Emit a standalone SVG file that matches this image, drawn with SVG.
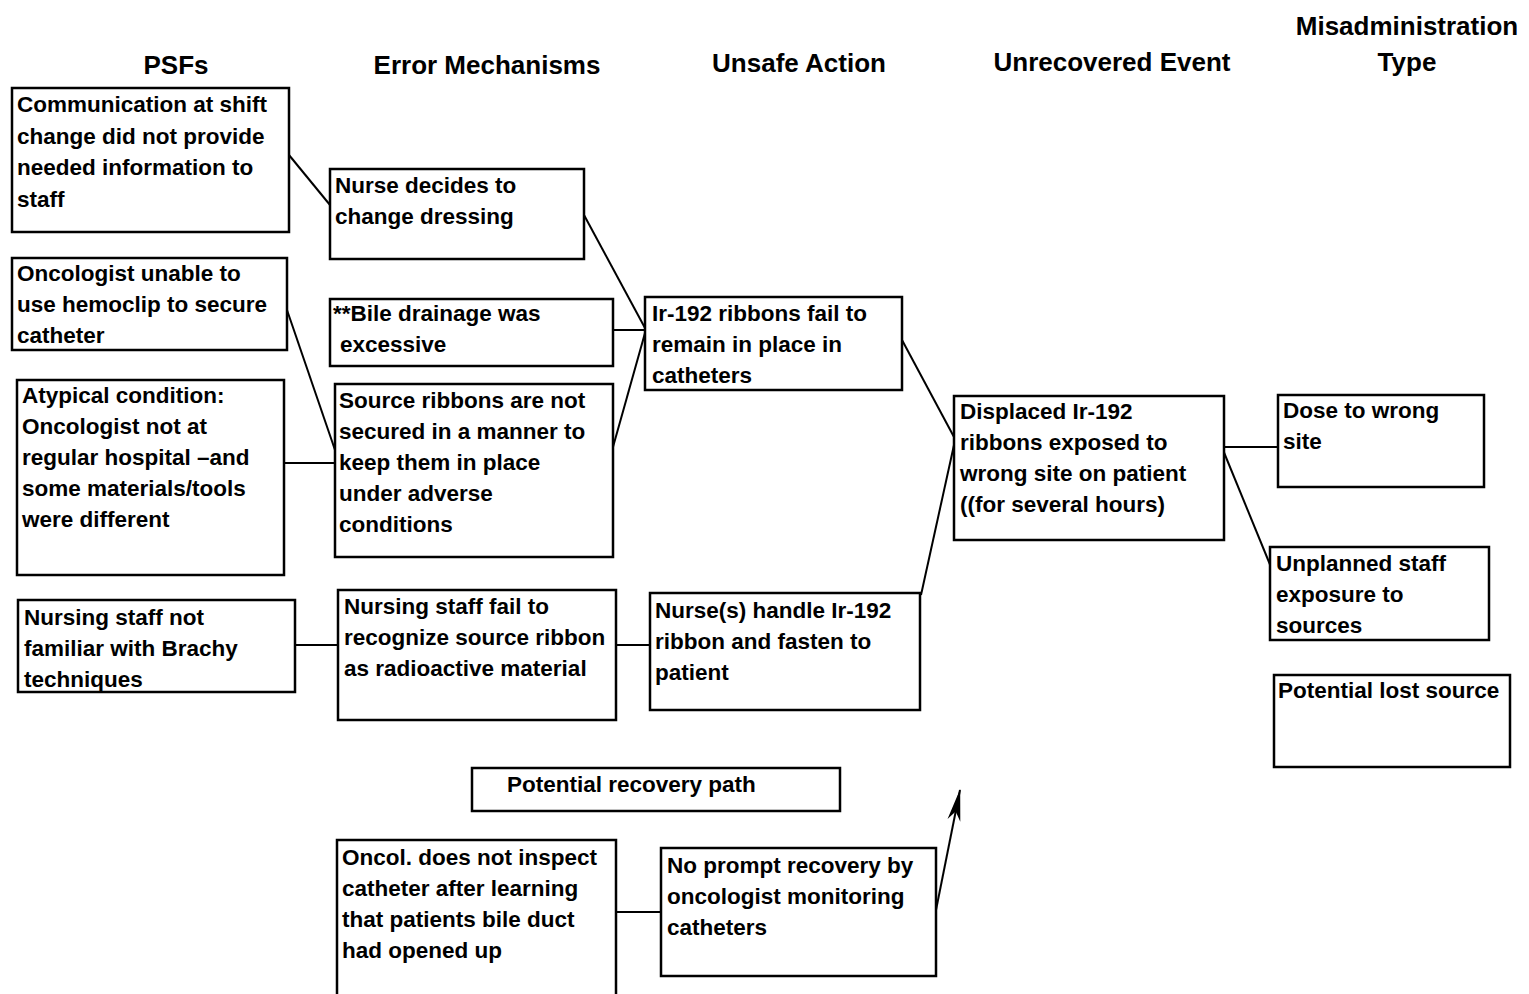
<svg xmlns="http://www.w3.org/2000/svg" width="1529" height="994" viewBox="0 0 1529 994">
  <style>
    .bg { fill: #ffffff; }
    .box { fill: #ffffff; stroke: #000000; stroke-width: 2.5; }
    .link { fill: none; stroke: #000000; stroke-width: 2; }
    .hdr { font-family: "Liberation Sans", Arial, sans-serif; font-weight: 700; font-size: 26px; fill: #000000; text-anchor: middle; }
    .lbl { font-family: "Liberation Sans", Arial, sans-serif; font-weight: 700; font-size: 22.5px; fill: #000000; }
  </style>
  <defs>
    <marker id="arrowhead" viewBox="0 0 32 14" refX="31" refY="7" markerWidth="32" markerHeight="14" markerUnits="userSpaceOnUse" orient="auto">
      <path d="M0,0.5 L32,7 L0,13.5 L9,7 Z" fill="#000000"/>
    </marker>
  </defs>

  <rect class="bg" x="0" y="0" width="1529" height="994"/>

  <!-- column headings -->
  <g id="headers">
    <text class="hdr" x="176" y="74">PSFs</text>
    <text class="hdr" x="487" y="74">Error Mechanisms</text>
    <text class="hdr" x="799" y="72">Unsafe Action</text>
    <text class="hdr" x="1112" y="71">Unrecovered Event</text>
    <text class="hdr" x="1407" y="35">Misadministration</text>
    <text class="hdr" x="1407" y="71">Type</text>
  </g>

  <!-- connectors -->
  <g id="connectors">
    <line class="link" x1="289" y1="155" x2="330" y2="205"/>
    <line class="link" x1="287" y1="310" x2="335" y2="450"/>
    <line class="link" x1="284" y1="463" x2="335" y2="463"/>
    <line class="link" x1="295" y1="645" x2="338" y2="645"/>
    <line class="link" x1="584" y1="215" x2="645" y2="328"/>
    <line class="link" x1="613" y1="330" x2="645" y2="330"/>
    <line class="link" x1="613" y1="447" x2="645" y2="333"/>
    <line class="link" x1="616" y1="645" x2="650" y2="645"/>
    <line class="link" x1="902" y1="340" x2="954" y2="437"/>
    <line class="link" x1="921" y1="595" x2="954" y2="445"/>
    <line class="link" x1="1224" y1="447" x2="1278" y2="447"/>
    <line class="link" x1="1223" y1="450" x2="1271" y2="567"/>
    <line class="link" x1="616" y1="912" x2="661" y2="912"/>
    <line class="link" x1="935" y1="915" x2="960" y2="790" stroke-width="2.5" marker-end="url(#arrowhead)"/>
  </g>

  <!-- PSFs -->
  <g id="psf-shift-change">
    <rect class="box" x="12" y="88" width="277" height="144"/>
    <text class="lbl" x="17" y="112">Communication at shift<tspan x="17" dy="31.5">change did not provide</tspan><tspan x="17" dy="31.5">needed information to</tspan><tspan x="17" dy="31.5">staff</tspan></text>
  </g>
  <g id="psf-hemoclip">
    <rect class="box" x="12" y="258" width="275" height="92"/>
    <text class="lbl" x="17" y="281">Oncologist unable to<tspan x="17" dy="31">use hemoclip to secure</tspan><tspan x="17" dy="31">catheter</tspan></text>
  </g>
  <g id="psf-atypical">
    <rect class="box" x="17" y="380" width="267" height="195"/>
    <text class="lbl" x="22" y="403">Atypical condition:<tspan x="22" dy="31">Oncologist not at</tspan><tspan x="22" dy="31">regular hospital –and</tspan><tspan x="22" dy="31">some materials/tools</tspan><tspan x="22" dy="31">were different</tspan></text>
  </g>
  <g id="psf-brachy">
    <rect class="box" x="18" y="600" width="277" height="92"/>
    <text class="lbl" x="24" y="625">Nursing staff not<tspan x="24" dy="31">familiar with Brachy</tspan><tspan x="24" dy="31">techniques</tspan></text>
  </g>

  <!-- Error mechanisms -->
  <g id="em-dressing">
    <rect class="box" x="330" y="169" width="254" height="90"/>
    <text class="lbl" x="335" y="193">Nurse decides to<tspan x="335" dy="31">change dressing</tspan></text>
  </g>
  <g id="em-bile">
    <rect class="box" x="330" y="299" width="283" height="67"/>
    <text class="lbl" x="333" y="321">**Bile drainage was<tspan x="340" dy="31">excessive</tspan></text>
  </g>
  <g id="em-not-secured">
    <rect class="box" x="335" y="384" width="278" height="173"/>
    <text class="lbl" x="339" y="408">Source ribbons are not<tspan x="339" dy="31">secured in a manner to</tspan><tspan x="339" dy="31">keep them in place</tspan><tspan x="339" dy="31">under adverse</tspan><tspan x="339" dy="31">conditions</tspan></text>
  </g>
  <g id="em-recognize">
    <rect class="box" x="338" y="590" width="278" height="130"/>
    <text class="lbl" x="344" y="614">Nursing staff fail to<tspan x="344" dy="31">recognize source ribbon</tspan><tspan x="344" dy="31">as radioactive material</tspan></text>
  </g>

  <!-- Unsafe actions -->
  <g id="ua-ribbons-fail">
    <rect class="box" x="645" y="297" width="257" height="93"/>
    <text class="lbl" x="652" y="321">Ir-192 ribbons fail to<tspan x="652" dy="31">remain in place in</tspan><tspan x="652" dy="31">catheters</tspan></text>
  </g>
  <g id="ua-handle">
    <rect class="box" x="650" y="593" width="270" height="117"/>
    <text class="lbl" x="655" y="618">Nurse(s) handle Ir-192<tspan x="655" dy="31">ribbon and fasten to</tspan><tspan x="655" dy="31">patient</tspan></text>
  </g>

  <!-- Unrecovered event -->
  <g id="ue-displaced">
    <rect class="box" x="954" y="396" width="270" height="144"/>
    <text class="lbl" x="960" y="419">Displaced Ir-192<tspan x="960" dy="31">ribbons exposed to</tspan><tspan x="960" dy="31">wrong site on patient</tspan><tspan x="960" dy="31">((for several hours)</tspan></text>
  </g>

  <!-- Misadministration types -->
  <g id="mt-wrong-site">
    <rect class="box" x="1278" y="395" width="206" height="92"/>
    <text class="lbl" x="1283" y="418">Dose to wrong<tspan x="1283" dy="31">site</tspan></text>
  </g>
  <g id="mt-staff-exposure">
    <rect class="box" x="1270" y="547" width="219" height="93"/>
    <text class="lbl" x="1276" y="571">Unplanned staff<tspan x="1276" dy="31">exposure to</tspan><tspan x="1276" dy="31">sources</tspan></text>
  </g>
  <g id="mt-lost-source">
    <rect class="box" x="1274" y="675" width="236" height="92"/>
    <text class="lbl" x="1278" y="698">Potential lost source</text>
  </g>

  <!-- Recovery path -->
  <g id="recovery-label">
    <rect class="box" x="472" y="768" width="368" height="43"/>
    <text class="lbl" x="507" y="792">Potential recovery path</text>
  </g>
  <g id="rec-no-inspect">
    <rect class="box" x="337" y="840" width="279" height="160"/>
    <text class="lbl" x="342" y="865">Oncol. does not inspect<tspan x="342" dy="31">catheter after learning</tspan><tspan x="342" dy="31">that patients bile duct</tspan><tspan x="342" dy="31">had opened up</tspan></text>
  </g>
  <g id="rec-no-prompt">
    <rect class="box" x="661" y="848" width="275" height="128"/>
    <text class="lbl" x="667" y="873">No prompt recovery by<tspan x="667" dy="31">oncologist monitoring</tspan><tspan x="667" dy="31">catheters</tspan></text>
  </g>
</svg>
